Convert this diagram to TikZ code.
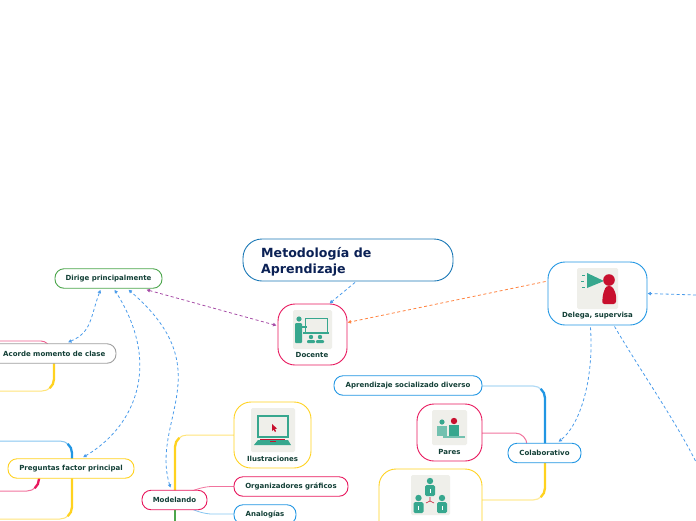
\documentclass[tikz,border=0pt]{standalone}
\usepackage{fontspec}
\setmainfont{DejaVu Sans}
\usetikzlibrary{arrows.meta,positioning,calc}
\definecolor{mpink}{HTML}{E8175D}
\definecolor{mblue}{HTML}{2196E3}
\definecolor{myellow}{HTML}{FFD21F}
\definecolor{mgreen}{HTML}{4CA64C}
\definecolor{mteal}{HTML}{37A78E}
\definecolor{mred}{HTML}{C8102E}
\definecolor{mtext}{HTML}{123F36}
\definecolor{mnavy}{HTML}{0B2155}
\definecolor{mdash}{HTML}{4A9BEA}
\definecolor{iconbg}{HTML}{EFEFEA}
\newcommand{\personicon}[3]{%
  \fill[#3] (#1,#2) circle (3.2);
  \fill[#3,rounded corners=1.5pt] ($(#1,#2)+(-5,4)$) rectangle ($(#1,#2)+(5,15)$);
  \fill[white] ($(#1,#2)+(-0.5,8)$) rectangle ($(#1,#2)+(0.5,12)$);}
\begin{document}
\begin{tikzpicture}[
  x=1pt,y=-1pt,
  topic/.style={draw,line width=0.9pt,fill=white,rounded corners=9pt,minimum height=19.5pt,
                inner sep=0pt,font=\fontsize{7}{8}\selectfont\bfseries,text=mtext,anchor=center},
  card/.style={draw,line width=0.9pt,fill=white,rounded corners=17pt,inner sep=0pt,anchor=center},
  capt/.style={font=\fontsize{7}{8}\selectfont\bfseries,text=mtext,inner sep=0pt},
  link/.style={line width=1pt,rounded corners=12pt},
  trunk/.style={line width=2.3pt},
  ar/.style={-{Latex[length=3.5pt,width=4pt]},dash pattern=on 3pt off 2.5pt,line width=0.8pt,draw=mdash},
  br/.style={ar,{Latex[length=3.5pt,width=4pt]}-{Latex[length=3.5pt,width=4pt]}}
]
\path[use as bounding box] (0,0) rectangle (696,520);
\clip (0,0) rectangle (696,520);

% connectors behind the boxes
\draw[link,myellow!60] (54,379) |- (0,391);
\draw[trunk,myellow] (54,360) -- (54,379) arc[start angle=0,end angle=50,radius=12];
\draw[link,mblue!55] (72,453) |- (0,441);
\draw[trunk,mblue] (72,462) -- (72,453) arc[start angle=0,end angle=-50,radius=12];
\draw[link,mpink!60] (39,479) |- (0,491);
\draw[trunk,mpink] (39,475) -- (39,479) arc[start angle=0,end angle=50,radius=12];
\draw[link,myellow!60] (72,507) |- (0,519);
\draw[trunk,myellow] (72,475) -- (72,507) arc[start angle=0,end angle=50,radius=12];
\draw[link,myellow!60] (175,447) |- (234,435);
\draw[trunk,myellow] (175,495) -- (175,447) arc[start angle=180,end angle=230,radius=12];
\draw[trunk,mgreen] (175,505) -- (175,522);
\draw[link,mpink!60,line width=0.8pt] (190,492) -- (200,486.5) -- (234,486.5);
\draw[link,mblue!55,line width=0.8pt] (190,508) -- (200,514) -- (234,514);
\draw[link,mblue!35,line width=1.2pt] (545,398) |- (482,386);
\draw[trunk,mblue] (545,450) -- (545,398) arc[start angle=0,end angle=-50,radius=12];
\draw[link,mpink!60] (527,448) |- (482,433);
\draw[link,myellow!45,line width=1.2pt] (545,488) |- (482,500);
\draw[trunk,myellow] (545,458) -- (545,488) arc[start angle=0,end angle=50,radius=12];

% boxes
\node[topic,draw=mblue!80!black,minimum width=210pt,minimum height=42pt,rounded corners=19pt] (title) at (348,260) {};
\node[anchor=west,align=left,inner sep=0pt,font=\fontsize{12.6}{16}\selectfont\bfseries,text=mnavy] (titletext) at (261,262) {Metodología de\\Aprendizaje};
\node[card,draw=mpink,minimum width=69pt,minimum height=61pt] (docente) at (312.5,334.5) {};
\node[capt] (docentecap) at (312,355) {Docente};
\node[topic,draw=mgreen,minimum width=107pt] (dirige) at (108.5,278.5) {Dirige principalmente};
\draw[line width=0.9pt,draw=mpink!70,rounded corners=9pt] (-10,341) rectangle (50,360);
\node[topic,draw=gray!75,minimum width=136pt] (acorde) at (48,353.5) {};
\node[capt,anchor=west] (acordecap) at (3,353.5) {Acorde momento de clase};
\node[topic,draw=myellow,minimum width=126pt] (preguntas) at (71,468.5) {Preguntas factor principal};
\node[topic,draw=mpink,minimum width=65pt] (modelando) at (174.5,500) {Modelando};
\node[card,draw=myellow,minimum width=77pt,minimum height=66pt] (ilustra) at (272.5,435) {};
\node[capt] (ilustracap) at (272.5,458.5) {Ilustraciones};
\node[topic,draw=mpink,minimum width=114pt] (organiza) at (291,486.5) {Organizadores gráficos};
\node[topic,draw=mblue,minimum width=62pt] (analogias) at (265,514.5) {Analogías};
\node[topic,draw=mblue,minimum width=148pt] (aprendizaje) at (408,385.5) {Aprendizaje socializado diverso};
\node[card,draw=mpink,minimum width=65pt,minimum height=57pt] (pares) at (449.5,432.5) {};
\node[capt] (parescap) at (449.5,451.5) {Pares};
\node[card,draw=myellow,minimum width=103pt,minimum height=90pt] (grupos) at (430.5,514) {};
\node[topic,draw=mblue,minimum width=73pt] (colabora) at (544.5,453) {Colaborativo};
\node[card,draw=mblue,minimum width=99pt,minimum height=63pt] (delega) at (597.5,293.5) {};
\node[capt] (delegacap) at (597.5,316) {Delega, supervisa};

% free ends at the margin
\coordinate (offright) at (696,295);
\coordinate (offbottom) at (696,462);

% dashed links
\draw[ar] ($(title.south)+(7,1)$) -- ($(docente.north)+(17,0)$);
\draw[ar,draw=orange!70!red!75] ($(delega.west)+(-2,-12)$) -- ($(docente.east)+(0,-12)$);
\draw[br,draw=violet!70] ($(dirige.south east)+(-16,1)$) -- ($(docente.west)+(-1,-9)$);
\draw[br] ($(acorde.north)+(20,-1)$) .. controls (92,332) and (90,318) .. ($(dirige.south)+(-8,1)$);
\draw[br] ($(preguntas.north)+(12,-1)$) .. controls (130,430) and (165,370) .. ($(dirige.south)+(6,1)$);
\draw[br] ($(modelando.north)+(-4,-2)$) .. controls (150,420) and (222,370) .. ($(dirige.south)+(20,1)$);
\draw[ar] ($(delega.south)+(-7,2)$) .. controls (594,380) and (580,425) .. ($(colabora.north)+(14,-1)$);
\draw[ar,-] ($(delega.south)+(17,1)$) .. controls (640,370) and (675,420) .. (offbottom);
\draw[ar] (offright) -- (delega.east);

% icons
\fill[iconbg,rounded corners=1.5pt] (293,310) rectangle (332,349);
\draw[mteal,line width=1pt] (305,318) rectangle (327,332);
\fill[mteal] (303,332) rectangle (329,333.5);
\fill[mteal] (299,319) circle (2.6);
\fill[mteal,rounded corners=1pt] (295,323) rectangle (302,343);
\fill[mteal] (302,326) rectangle (307,328);
\fill[mteal] (311,337) circle (2.2) (320,337) circle (2.2);
\fill[mteal,rounded corners=1pt] (307,340) rectangle (315,343) (316,340) rectangle (324,343);

\fill[iconbg,rounded corners=1.5pt] (251,408) rectangle (295,452);
\draw[mteal,line width=1.2pt] (258,416) rectangle (288,437);
\fill[mteal] (258,440) -- (288,440) -- (291,445) -- (254,445) -- cycle;
\fill[mred] (260,438.5) rectangle (285,439.5);
\fill[mred] (270,441) rectangle (276,442);
\fill[mred] (272,424) -- (272,431) -- (273.5,429.5) -- (275,432) -- (276,431) -- (275,429) -- (277,428.5) -- cycle;

\fill[iconbg,rounded corners=1.5pt] (432,410) rectangle (467,445);
\fill[mteal] (442,422) circle (2.6);
\fill[mteal!70] (437,426) rectangle (447,436);
\fill[mred] (454,421) circle (3.2);
\fill[mteal] (449,425) rectangle (459,436);
\fill[mteal!70] (443,436) rectangle (465,437.5);

\fill[iconbg,rounded corners=1.5pt] (411,475) rectangle (450,515);
\personicon{430}{481}{mteal}
\personicon{418.5}{498}{mteal}
\personicon{442}{498}{mteal}
\draw[mred,line width=0.6pt] (430,497) -- (430,501) -- (426,503) (430,501) -- (434,503);

\fill[iconbg,rounded corners=1.5pt] (577,268) rectangle (618,309);
\fill[mteal] (587,273) -- (587,288) -- (604,281) -- cycle;
\fill[mred] (609,280) circle (5.8);
\fill[mred,rounded corners=2.5pt] (602,304) -- (603,294) -- (606,286) -- (612,286) -- (616,294) -- (616,304) -- cycle;
\draw[mteal,line width=0.4pt] (582,275) -- (585,275) (581,281) -- (584,281) (582,287) -- (585,287);
\end{tikzpicture}
\end{document}
